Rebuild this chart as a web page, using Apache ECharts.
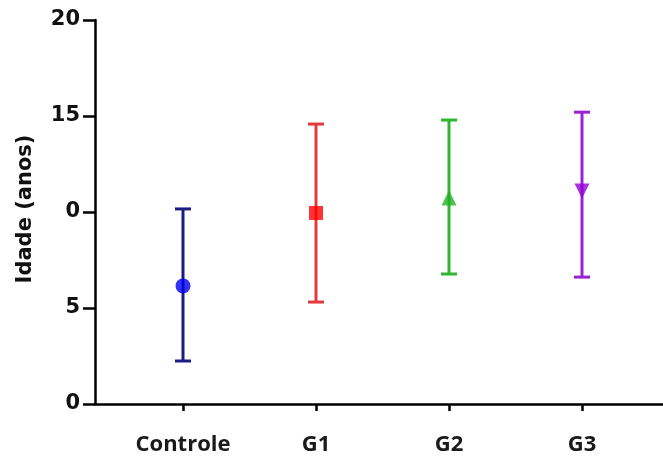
<!DOCTYPE html>
<html><head><meta charset="utf-8">
<script src="https://cdn.jsdelivr.net/npm/echarts@6/dist/echarts.min.js"></script>
<style>html,body{margin:0;padding:0;background:#fff}#c{width:663px;height:456px}</style>
</head><body><div id="c"></div>
<script>
var categories = ['Controle', 'G1', 'G2', 'G3'];
var means = [6.15, 9.95, 10.73, 11.09];
var upper = [10.16, 14.58, 14.79, 15.2];
var lower = [2.24, 5.31, 6.77, 6.61];
var yTickValues = [0, 5, 10, 15, 20];
var yTickLabels = ['0', '5', '0', '15', '20'];
var yTitle = 'Idade (anos)';

var lineColors = ['#1c1c86', '#e03a3a', '#2fb52f', '#9a22d2'];
var markerColors = ['#0000f0', '#ff0000', '#22b022', '#9400d6'];
var symbols = ['circle', 'rect', 'triangle', 'triangle'];
var rotations = [0, 0, 0, 180];
var symbolSizes = [15, 14, 15, 15];

var chart = echarts.init(document.getElementById('c'), null, {renderer: 'canvas'});

var errData = categories.map(function (c, i) { return [i, lower[i], upper[i]]; });
var meanData = categories.map(function (c, i) {
  return {
    value: [i, means[i]],
    symbol: symbols[i],
    symbolRotate: rotations[i],
    symbolSize: symbolSizes[i],
    itemStyle: {color: markerColors[i]}
  };
});

var option = {
  animation: false,
  grid: [
    {left: 95, right: 0, top: 20, bottom: 52},
    {left: 116.5, right: 14.5, top: 20, bottom: 52}
  ],
  xAxis: [
    {gridIndex: 0, type: 'value', min: 0, max: 1,
     axisLine: {show: true, onZero: false, lineStyle: {color: '#000', width: 2.5}},
     axisTick: {show: false}, axisLabel: {show: false}, splitLine: {show: false}},
    {gridIndex: 1, type: 'category', data: categories, boundaryGap: true,
     axisLine: {show: false},
     axisTick: {show: true, alignWithLabel: true, length: 7, lineStyle: {color: '#000', width: 2.5}},
     axisLabel: {margin: 30, fontFamily: 'Open Sans', fontWeight: 'bold', fontSize: 22, color: '#1a1a1a'},
     splitLine: {show: false}}
  ],
  yAxis: [
    {gridIndex: 0, type: 'value', min: 0, max: 20, interval: 5,
     axisLine: {show: true, lineStyle: {color: '#000', width: 2.5}},
     axisTick: {show: true, length: 12, lineStyle: {color: '#000', width: 2.5}},
     axisLabel: {margin: 15, fontFamily: 'DejaVu Sans', fontWeight: 'bold', fontSize: 21, color: '#111',
       formatter: function (v) { var k = yTickValues.indexOf(v); return k >= 0 ? yTickLabels[k] : ''; }},
     splitLine: {show: false}},
    {gridIndex: 1, type: 'value', min: 0, max: 20, show: false}
  ],
  graphic: [{
    type: 'text',
    x: 26, y: 209,
    rotation: Math.PI / 2,
    style: {text: yTitle, fontFamily: 'DejaVu Sans', fontWeight: 'bold', fontSize: 21, fill: '#111',
            align: 'center', verticalAlign: 'middle'}
  }],
  series: [
    {
      type: 'custom', xAxisIndex: 1, yAxisIndex: 1,
      data: errData,
      renderItem: function (params, api) {
        var i = api.value(0);
        var lo = api.coord([i, api.value(1)]);
        var hi = api.coord([i, api.value(2)]);
        var hw = 8;
        var col = lineColors[i];
        var st = {stroke: col, lineWidth: 3};
        return {
          type: 'group',
          children: [
            {type: 'line', shape: {x1: lo[0], y1: lo[1], x2: hi[0], y2: hi[1]}, style: st},
            {type: 'line', shape: {x1: lo[0] - hw, y1: lo[1], x2: lo[0] + hw, y2: lo[1]}, style: st},
            {type: 'line', shape: {x1: hi[0] - hw, y1: hi[1], x2: hi[0] + hw, y2: hi[1]}, style: st}
          ]
        };
      },
      z: 2
    },
    {
      type: 'scatter', xAxisIndex: 1, yAxisIndex: 1,
      data: meanData, z: 3
    }
  ]
};
chart.setOption(option);
</script>
</body></html>
